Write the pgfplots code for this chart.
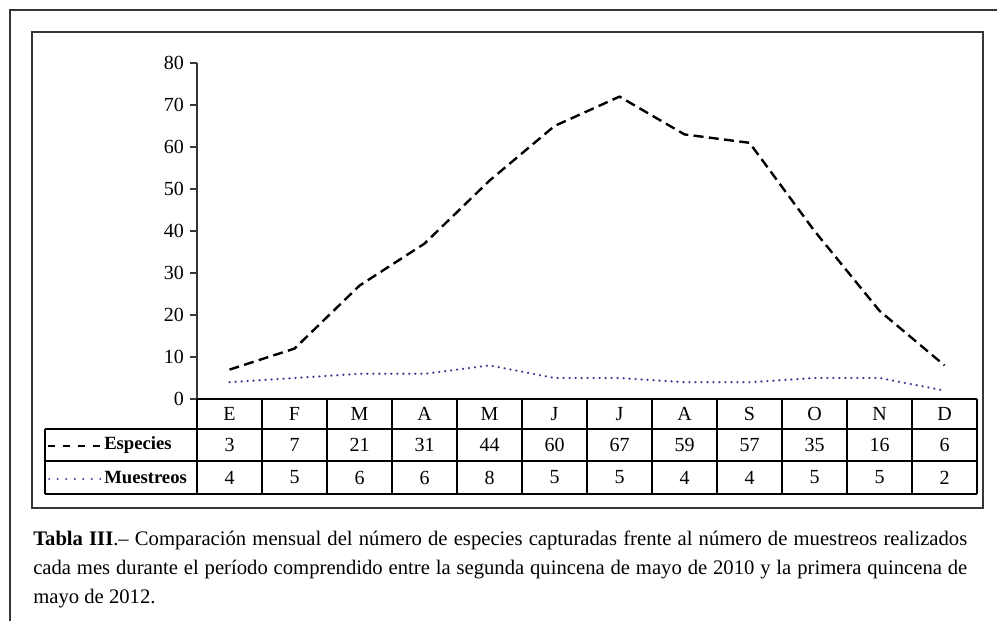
\documentclass[border=0pt]{standalone}
\usepackage{fontspec}
\setmainfont{Liberation Serif}
\usepackage{pgfplots}
\pgfplotsset{compat=1.18}
\definecolor{muestcol}{RGB}{65,55,150}
\definecolor{framecol}{RGB}{55,55,55}
\newcommand\fs{\fontsize{15}{17}\selectfont}
\newcommand\fb{\fontsize{14}{16}\selectfont\bfseries}
\begin{document}
\begin{tikzpicture}
\def\pxu{0.75pt}
\path[use as bounding box] (0,0) rectangle (997*\pxu,-621*\pxu);
% outer page frame (top and left)
\draw[line width=2.2*\pxu, framecol] (997*\pxu,-10*\pxu) -- (10*\pxu,-10*\pxu) -- (10*\pxu,-621*\pxu);
% inner box
\draw[line width=1.6*\pxu, framecol] (32*\pxu,-32*\pxu) rectangle (983*\pxu,-508*\pxu);
\begin{axis}[
  at={(197*\pxu,-399*\pxu)}, anchor=south west,
  scale only axis, width=585pt, height=252pt,
  xmin=0, xmax=12, ymin=0, ymax=80,
  axis x line*=bottom, axis y line*=left,
  xtick=\empty,
  ytick={0,10,...,80},
  tick align=outside,
  major tick length=7*\pxu,
  axis line style={line width=1.5*\pxu, framecol},
  tick style={line width=1.2*\pxu, framecol},
  y tick label style={font=\fontsize{15}{17}\selectfont, xshift=-1pt},
  /pgf/number format/assume math mode=true,
  stack plots=y,
  clip=false,
]
\addplot[muestcol, line width=1.7pt, line cap=round, dash pattern=on 0.2pt off 4.3pt]
  coordinates {(0.5,4)(1.5,5)(2.5,6)(3.5,6)(4.5,8)(5.5,5)(6.5,5)(7.5,4)(8.5,4)(9.5,5)(10.5,5)(11.5,2)};
\addplot[black, line width=1.8pt, dash pattern=on 7.5pt off 4pt]
  coordinates {(0.5,3)(1.5,7)(2.5,21)(3.5,31)(4.5,44)(5.5,60)(6.5,67)(7.5,59)(8.5,57)(9.5,35)(10.5,16)(11.5,6)};
\end{axis}
% table grid
\begin{scope}[line width=1.3*\pxu, black]
\draw (197*\pxu,-399*\pxu) -- (977*\pxu,-399*\pxu);
\draw (45*\pxu,-429*\pxu) -- (977*\pxu,-429*\pxu);
\draw (45*\pxu,-461*\pxu) -- (977*\pxu,-461*\pxu);
\draw (45*\pxu,-494*\pxu) -- (977*\pxu,-494*\pxu);
\draw (45*\pxu,-429*\pxu) -- (45*\pxu,-494*\pxu);
\foreach \k in {0,...,12} \draw ({(197+65*\k)*\pxu},-399*\pxu) -- ({(197+65*\k)*\pxu},-494*\pxu);
\end{scope}
\foreach \m [count=\i from 0] in {E,F,M,A,M,J,J,A,S,O,N,D}
  \node[font=\fs] at ({(229.5+65*\i)*\pxu},-414*\pxu) {\m};
\foreach \v [count=\i from 0] in {3,7,21,31,44,60,67,59,57,35,16,6}
  \node[font=\fs] at ({(229.5+65*\i)*\pxu},-445*\pxu) {\v};
\foreach \v [count=\i from 0] in {4,5,6,6,8,5,5,4,4,5,5,2}
  \node[font=\fs] at ({(229.5+65*\i)*\pxu},-477.5*\pxu) {\v};
% legend keys
\draw[black, line width=1.6pt, dash pattern=on 5.2pt off 6pt] (48*\pxu,-446*\pxu) -- (101*\pxu,-446*\pxu);
\draw[muestcol, line width=1.4pt, line cap=round, dash pattern=on 0.2pt off 6.2pt] (49*\pxu,-479*\pxu) -- (101*\pxu,-479*\pxu);
\node[font=\fb, anchor=west, inner sep=0pt] at (104*\pxu,-445*\pxu) {Especies};
\node[font=\fb, anchor=west, inner sep=0pt] at (104*\pxu,-477.5*\pxu) {Muestreos};
% caption
\node[anchor=base west, inner sep=0pt, text width=934*\pxu, align=justify,
      font=\fontsize{15.5}{21.75}\selectfont] at (33*\pxu,-545*\pxu)
  {\textbf{Tabla III}.– Comparación mensual del número de especies capturadas frente al número de muestreos realizados\linebreak
   cada mes durante el período comprendido entre la segunda quincena de mayo de 2010 y la primera quincena de\linebreak
   mayo de 2012.};
\end{tikzpicture}
\end{document}
